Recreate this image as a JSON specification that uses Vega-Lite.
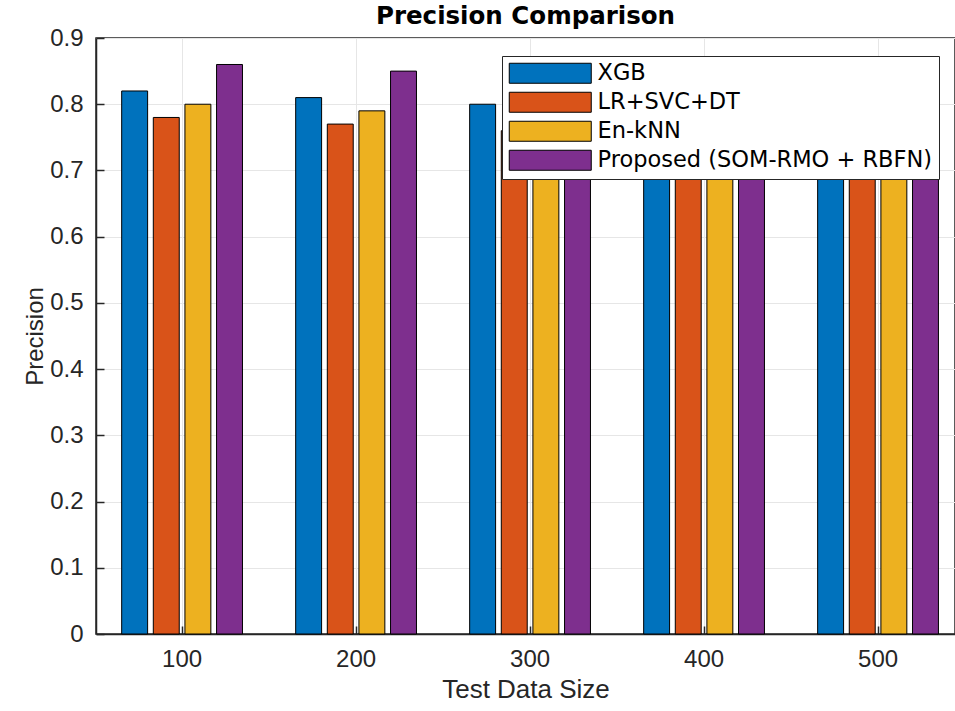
{
  "$schema": "https://vega.github.io/schema/vega-lite/v6.json",
  "autosize": {"type": "none"},
  "padding": {"left": 96, "top": 38, "right": 0, "bottom": 77},
  "width": 859,
  "height": 596,
  "background": "white",
  "config": {
    "view": {"stroke": "#262626", "strokeWidth": 1.5},
    "font": "Liberation Sans",
    "axis": {
      "labelFont": "Liberation Sans",
      "titleFont": "Liberation Sans",
      "labelColor": "#262626",
      "titleColor": "#262626",
      "titleFontWeight": "normal",
      "domainColor": "#262626",
      "domainWidth": 1.5,
      "tickColor": "#262626",
      "gridColor": "#e6e6e6",
      "gridWidth": 1
    }
  },
  "title": {
    "text": "Precision Comparison",
    "font": "DejaVu Sans",
    "fontWeight": "bold",
    "fontSize": 24.5,
    "color": "#000000",
    "frame": "group",
    "anchor": "middle",
    "baseline": "alphabetic",
    "offset": 0,
    "dy": 22
  },
  "data": {
    "values": [
      {"size": "100", "method": "XGB", "precision": 0.82},
      {"size": "100", "method": "LR+SVC+DT", "precision": 0.78},
      {"size": "100", "method": "En-kNN", "precision": 0.80},
      {"size": "100", "method": "Proposed (SOM-RMO + RBFN)", "precision": 0.86},
      {"size": "200", "method": "XGB", "precision": 0.81},
      {"size": "200", "method": "LR+SVC+DT", "precision": 0.77},
      {"size": "200", "method": "En-kNN", "precision": 0.79},
      {"size": "200", "method": "Proposed (SOM-RMO + RBFN)", "precision": 0.85},
      {"size": "300", "method": "XGB", "precision": 0.80},
      {"size": "300", "method": "LR+SVC+DT", "precision": 0.76},
      {"size": "300", "method": "En-kNN", "precision": 0.78},
      {"size": "300", "method": "Proposed (SOM-RMO + RBFN)", "precision": 0.84},
      {"size": "400", "method": "XGB", "precision": 0.79},
      {"size": "400", "method": "LR+SVC+DT", "precision": 0.75},
      {"size": "400", "method": "En-kNN", "precision": 0.77},
      {"size": "400", "method": "Proposed (SOM-RMO + RBFN)", "precision": 0.83},
      {"size": "500", "method": "XGB", "precision": 0.78},
      {"size": "500", "method": "LR+SVC+DT", "precision": 0.74},
      {"size": "500", "method": "En-kNN", "precision": 0.76},
      {"size": "500", "method": "Proposed (SOM-RMO + RBFN)", "precision": 0.82}
    ]
  },
  "mark": {"type": "bar", "stroke": "#000000", "strokeWidth": 1},
  "encoding": {
    "x": {
      "field": "size",
      "type": "nominal",
      "sort": ["100", "200", "300", "400", "500"],
      "scale": {"paddingInner": 0.273, "paddingOuter": 0.105, "align": 0.625},
      "axis": {
        "title": "Test Data Size",
        "titleFontSize": 26,
        "titlePadding": 5,
        "labelFontSize": 24,
        "labelAngle": 0,
        "labelPadding": 21,
        "grid": true,
        "bandPosition": 0.5,
        "ticks": true,
        "tickSize": -8,
        "tickWidth": 1.5
      }
    },
    "xOffset": {
      "field": "method",
      "type": "nominal",
      "scale": {
        "domain": ["XGB", "LR+SVC+DT", "En-kNN", "Proposed (SOM-RMO + RBFN)"],
        "paddingInner": 0.18,
        "paddingOuter": 0.09
      }
    },
    "y": {
      "field": "precision",
      "type": "quantitative",
      "scale": {"domain": [0, 0.9], "nice": false},
      "axis": {
        "title": "Precision",
        "titleFontSize": 24,
        "titlePadding": 2,
        "labelFontSize": 24,
        "labelPadding": 21,
        "values": [0, 0.1, 0.2, 0.3, 0.4, 0.5, 0.6, 0.7, 0.8, 0.9],
        "labelExpr": "datum.value == 0 ? '0' : format(datum.value, '.1f')",
        "grid": true,
        "tickSize": -8,
        "tickWidth": 1.5
      }
    },
    "color": {
      "field": "method",
      "type": "nominal",
      "scale": {
        "domain": ["XGB", "LR+SVC+DT", "En-kNN", "Proposed (SOM-RMO + RBFN)"],
        "range": ["#0072BD", "#D95319", "#EDB120", "#7E2F8E"]
      },
      "legend": {
        "title": null,
        "orient": "none",
        "legendX": 406,
        "legendY": 18,
        "direction": "vertical",
        "symbolType": "M-1,-1H7.2V1H-1Z",
        "symbolSize": 400,
        "symbolStrokeColor": "#000000",
        "symbolStrokeWidth": 1,
        "symbolOpacity": 1,
        "labelOffset": 67,
        "labelFont": "DejaVu Sans",
        "labelFontSize": 22.5,
        "labelColor": "#000000",
        "labelLimit": 500,
        "rowPadding": 4,
        "padding": 6,
        "strokeColor": "#262626",
        "fillColor": "#ffffff"
      }
    }
  }
}
